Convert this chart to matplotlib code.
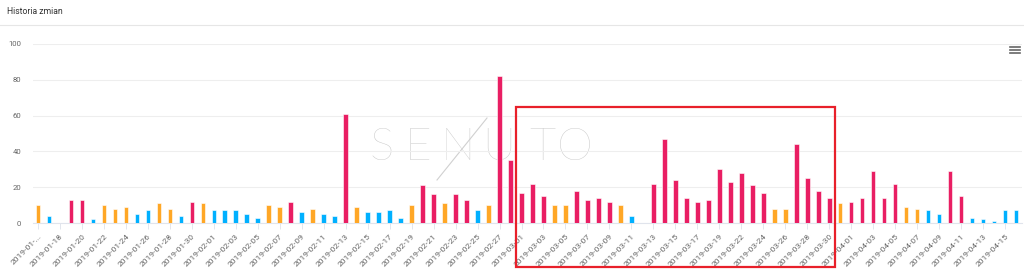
import numpy as np
import pandas as pd
import matplotlib
matplotlib.use("Agg")
import matplotlib.pyplot as plt
from matplotlib.patches import Rectangle
from matplotlib.lines import Line2D

plt.rcParams["font.family"] = ["Roboto", "DejaVu Sans"]

# categories (one bar per day, 2019-03-21 missing in the source)
dates = list(pd.date_range("2019-01-16", "2019-03-20").strftime("%Y-%m-%d")) + \
        list(pd.date_range("2019-03-22", "2019-04-16").strftime("%Y-%m-%d"))

values = [
    10, 4, 0, 13, 13, 2, 10, 8, 9, 5, 7, 11, 8, 4, 12, 11,          # Jan 16-31
    7, 7, 7, 5, 3, 10, 9, 12, 6, 8, 5, 4, 61, 9, 6, 6, 7, 3, 10,    # Feb 1-19
    21, 16, 11, 16, 13, 7, 10, 82, 35,                               # Feb 20-28
    17, 22, 15, 10, 10, 18, 13, 14, 12, 10, 4, 0, 22, 47, 24, 14,   # Mar 1-16
    12, 13, 30, 23,                                                  # Mar 17-20
    28, 21, 17, 8, 8, 44, 25, 18, 14, 11,                            # Mar 22-31
    12, 14, 29, 14, 22, 9, 8, 7, 5, 29, 15, 3, 2, 1, 7, 7,           # Apr 1-16
]

# colour band by value
BLUE, ORANGE, PINK = "#00b0ff", "#ffa726", "#e91e63"
colors = [BLUE if v < 8 else ORANGE if v < 12 else PINK for v in values]

tick_labels = [d if i % 2 == 0 else "" for i, d in enumerate(dates)]
tick_labels[0] = "2019-01-..."

W, H = 1024, 272
fig = plt.figure(figsize=(W / 100, H / 100), dpi=100)
fig.patch.set_facecolor("white")

# title and separator
fig.text(7 / W, 1 - 11 / H, "Historia zmian", fontsize=6.2, color="#333333",
         ha="left", va="center")
fig.add_artist(Line2D([0, 1], [1 - 25 / H, 1 - 25 / H], color="#e6e6e6", lw=0.8))

ax = fig.add_axes([32.5 / W, 1 - 223 / H, 989 / W, 179 / H])
x = np.arange(len(values))
ax.bar(x, values, width=0.42, color=colors, edgecolor="white", linewidth=0.4, zorder=3)

ax.set_xlim(-0.5, len(values) - 0.5)
ax.set_ylim(0, 100)
ax.set_yticks(range(0, 101, 20))
ax.grid(axis="y", color="#eeeeee", lw=0.8, zorder=0)
for s in ["top", "right", "left"]:
    ax.spines[s].set_visible(False)
ax.spines["bottom"].set_color("#e0e4ec")
ax.spines["bottom"].set_linewidth(0.8)

ax.set_xticks(x[::2])
ax.set_xticklabels(tick_labels[::2], rotation=45, ha="right", rotation_mode="anchor",
                   fontsize=6.1, color="#666666")
ax.tick_params(axis="x", length=4, width=0.6, color="#dde2ea", pad=3)
ax.tick_params(axis="y", length=0, labelsize=5.6, labelcolor="#666666", pad=8)

# watermark, behind the bars
for ch, px in zip("SENUTO", [382, 418, 458, 499, 542, 575]):
    ax.text(px / W, 1 - 148 / H, ch, fontsize=33, color="#c9c9c9", fontweight="light",
            family=["Lato", "DejaVu Sans"], ha="center", va="center",
            transform=fig.transFigure, zorder=1)
# long slanted stroke of the logo's N
ax.add_line(Line2D([437 / W, 487 / W], [1 - 180 / H, 1 - 118 / H], color="#d0d0d0",
                   lw=0.8, transform=fig.transFigure, zorder=1))

# menu icon
for dy in [47, 50, 53]:
    fig.add_artist(Line2D([1010 / W, 1020 / W], [1 - dy / H, 1 - dy / H],
                          color="#666666", lw=1.2))

# highlight box
fig.add_artist(Rectangle((515.5 / W, 1 - 266.5 / H), 319 / W, 159.5 / H,
                         fill=False, edgecolor="#e8202a", lw=1.6))

fig.savefig("out.png", dpi=100)
